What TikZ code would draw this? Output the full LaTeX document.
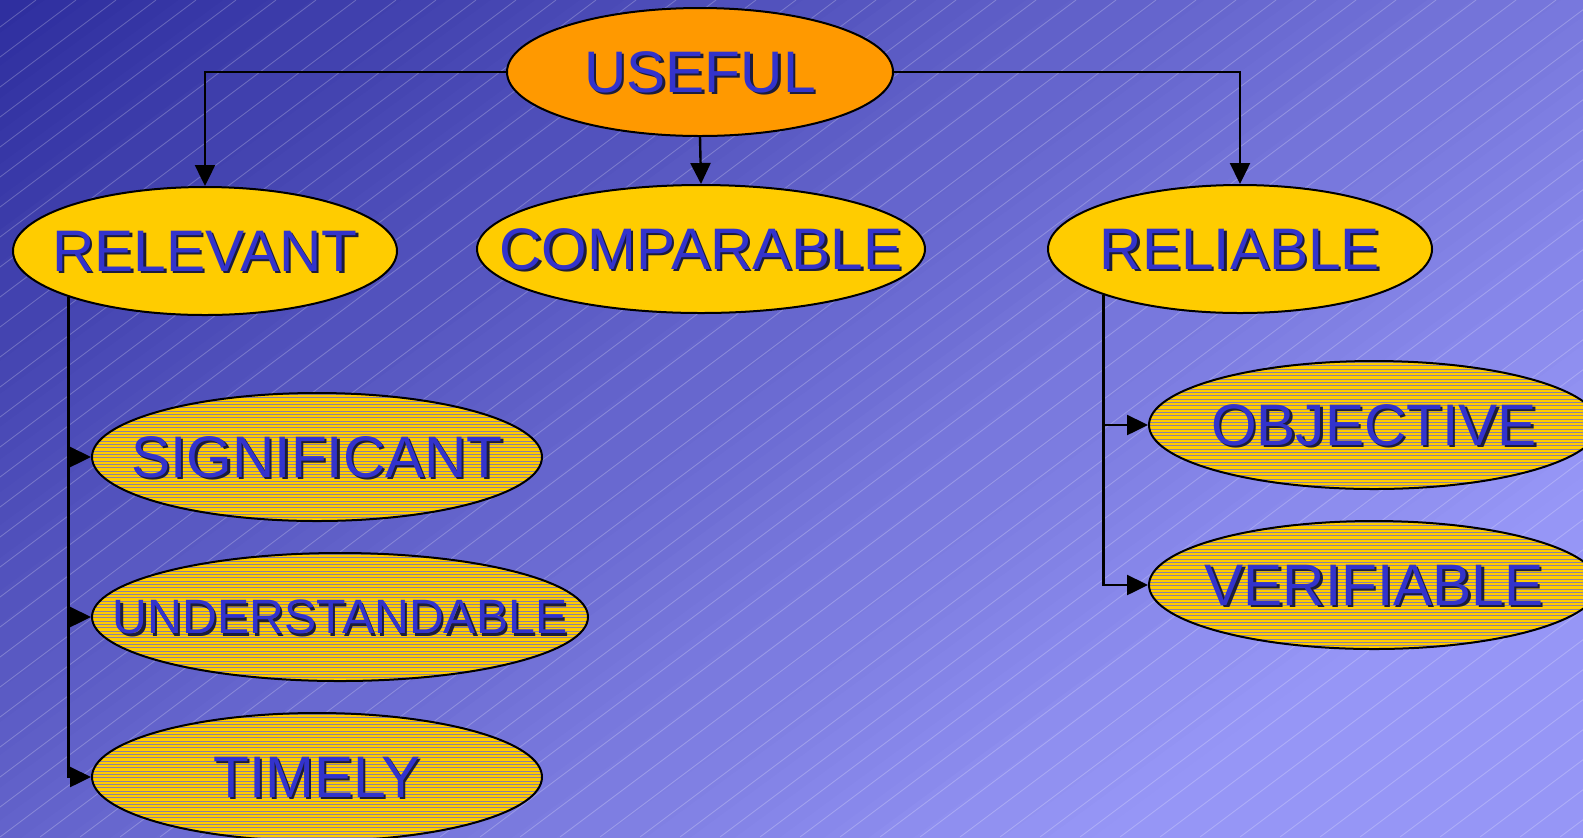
\documentclass[tikz,border=0pt]{standalone}
\usepackage{fontspec}
\setmainfont{Liberation Sans}
\usetikzlibrary{shapes.geometric}
\usetikzlibrary{arrows.meta}

\definecolor{bgdark}{HTML}{2E2E9E}
\definecolor{bglight}{HTML}{9696F6}
\definecolor{usefulorange}{HTML}{FF9900}
\definecolor{ellyellow}{HTML}{FFCC00}
\definecolor{textblue}{HTML}{3333CC}
\definecolor{textshadow}{HTML}{1C1C3A}
\definecolor{gapblue}{HTML}{6A6AD6}

\newcommand{\shadowed}[1]{\makebox[0pt]{\rlap{\smash{\hspace{1.2pt}\raisebox{-1.2pt}{\color{textshadow}#1}}}#1}}

\tikzset{
  oval/.style={ellipse, draw=black, line width=1pt, inner sep=0pt, minimum height=64pt,
    text=textblue, font=\fontsize{29.3}{35}\selectfont},
  solidoval/.style={oval, fill=ellyellow},
  stripedoval/.style={oval, fill=ellyellow, path picture={
    \foreach \k in {0,...,40}
      \draw[gapblue, opacity=0.75, line width=0.4pt]
        ([yshift=\k*1.667pt]path picture bounding box.south west)
        -- ([yshift=\k*1.667pt]path picture bounding box.south east);
  }},
  conn/.style={line width=1.2pt, -{Triangle[length=10.5pt,width=10pt]}},
  sheen/.style={white, opacity=0.25, line width=0.4pt}
}

\begin{document}
\begin{tikzpicture}[x=0.5pt,y=-0.5pt]
\useasboundingbox (0,0) rectangle (1583,837);
% background
\begin{scope}
\clip (0,0) rectangle (1583,837);
\foreach \i in {0,...,61}{
  \pgfmathsetmacro{\ta}{\i/50}
  \pgfmathsetmacro{\tb}{(\i+1.3)/50}
  \pgfmathtruncatemacro{\p}{min(100,2*\i+1)}
  \fill[bglight!\p!bgdark] ({(\ta+0.0305)*2229.7},-50) -- ({(\tb+0.0305)*2229.7},-50)
    -- ({(\tb-0.5484)*2229.7},900) -- ({(\ta-0.5484)*2229.7},900) -- cycle;
}
\foreach \k in {-30,...,40}
  \draw[sheen] ({\k*40},837) -- ({\k*40+1116},0);
\end{scope}

% ovals
\node[oval, fill=usefulorange, minimum width=193pt] (useful) at (700,72) {\shadowed{USEFUL}};
\node[solidoval, minimum width=192pt] (relevant) at (205,251) {\shadowed{RELEVANT}};
\node[solidoval, minimum width=224pt] (comparable) at (701,249) {\shadowed{COMPARABLE}};
\node[solidoval, minimum width=192pt] (reliable) at (1240,249) {\shadowed{RELIABLE}};
\node[stripedoval, minimum width=225pt] (significant) at (317,457) {\shadowed{SIGNIFICANT}};
\node[stripedoval, minimum width=248pt, font=\fontsize{24.1}{29}\selectfont] (understandable) at (340,617) {\shadowed{UNDERSTANDABLE}};
\node[stripedoval, minimum width=225pt] (timely) at (317,777) {\shadowed{TIMELY}};
\node[stripedoval, minimum width=225pt] (objective) at (1374,425) {\shadowed{OBJECTIVE}};
\node[stripedoval, minimum width=225pt] (verifiable) at (1374,585) {\shadowed{VERIFIABLE}};

% connectors
\draw[conn] (useful.west) -| (relevant.north);
\draw[conn] (useful.south) -- (comparable.north);
\draw[conn] (useful.east) -| (reliable.north);
\draw[conn] (relevant.south west) |- (significant.west);
\draw[conn] (relevant.south west) |- (understandable.west);
\draw[conn] (relevant.south west) |- (timely.west);
\draw[conn] (reliable.south west) |- (objective.west);
\draw[conn] (reliable.south west) |- (verifiable.west);
\end{tikzpicture}
\end{document}
